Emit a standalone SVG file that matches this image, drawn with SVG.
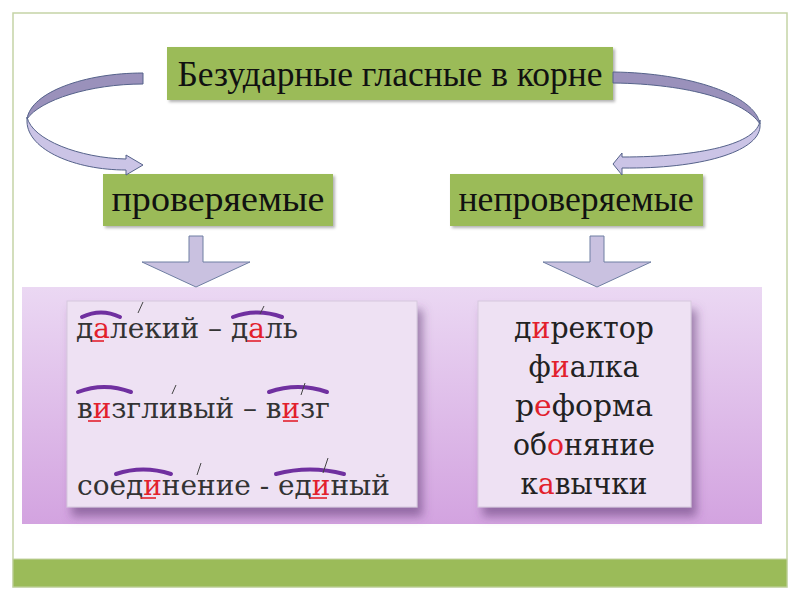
<svg xmlns="http://www.w3.org/2000/svg" width="800" height="600" viewBox="0 0 800 600">
<defs>
<style>
.hdr{fill:#9BBB59;}
.htxt{fill:#111;}
.ctxt{fill:#333;font-size:27px;}
.rtxt{fill:#222;font-size:29px;text-anchor:middle;}
.r{fill:#E2202C;}
.dark{fill:#9A91BB;stroke:#55628A;stroke-width:1;}
.light{fill:#CBC4E6;stroke:#55628A;stroke-width:1;}
.down{fill:#C9C1E0;stroke:#6F7EA2;stroke-width:1;}
.arc{fill:none;stroke:#7030A0;stroke-width:4;stroke-linecap:round;}
.ul{stroke:#E2202C;stroke-width:1.6;}
.st{stroke:#444;stroke-width:1;}
.card{fill:#EEE1F3;stroke:#D6C8DE;stroke-width:1;}
</style>
<linearGradient id="bandg" x1="0" y1="0" x2="0" y2="1">
<stop offset="0" stop-color="#EBD8F3"/>
<stop offset="1" stop-color="#D3A3E0"/>
</linearGradient>
<filter id="sh" x="-10%" y="-10%" width="125%" height="135%">
<feDropShadow dx="2" dy="2" stdDeviation="1.5" flood-color="#000" flood-opacity="0.3"/>
</filter>
<filter id="csh" x="-10%" y="-10%" width="130%" height="140%">
<feDropShadow dx="5" dy="9" stdDeviation="5" flood-color="#5E3A72" flood-opacity="0.55"/>
</filter>
</defs>

<g id="frame">
<rect x="13" y="13" width="774" height="574" fill="#FFFFFF" stroke="#C5D4A6" stroke-width="1.5"/>
<rect x="13" y="559" width="774" height="28" fill="#9BBB59" stroke="#C5D4A6" stroke-width="1"/>
</g>

<g id="band">
<rect x="22" y="287" width="740" height="237" fill="url(#bandg)"/>
</g>

<g id="node-root">
<rect class="hdr" x="167" y="47" width="446" height="53" filter="url(#sh)"/>
<text class="htxt" font-family="Liberation Serif" x="390" y="86" font-size="35" text-anchor="middle" textLength="425" lengthAdjust="spacingAndGlyphs">Безударные гласные в корне</text>
</g>

<g id="node-checked">
<rect class="hdr" x="103" y="174" width="230" height="52" filter="url(#sh)"/>
<text class="htxt" font-family="Liberation Serif" x="218" y="211" font-size="35" text-anchor="middle" textLength="213" lengthAdjust="spacingAndGlyphs">проверяемые</text>
</g>

<g id="node-unchecked">
<rect class="hdr" x="450" y="174" width="253" height="52" filter="url(#sh)"/>
<text class="htxt" font-family="Liberation Serif" x="576" y="211" font-size="35" text-anchor="middle" textLength="235" lengthAdjust="spacingAndGlyphs">непроверяемые</text>
</g>

<g id="connectors">
<path class="dark" d="M143,73 C85,73 31,92 27,119 C40,100 90,84 143,84 Z"/>
<path class="light" d="M27,117 C32,140 80,158 126,159 L126,155 L143,165 L126,175 L126,170 C75,170 28,150 27,122 Z"/>
<path class="dark" d="M613,72 C690,73 755,95 760,124 C745,101 690,84 613,83 Z"/>
<path class="light" d="M760,120 C758,144 700,157 622,157 L622,153 L613,164 L622,175 L622,168 C700,169 758,152 760,127 Z"/>
<path class="down" d="M189,236 L203,236 L203,262 L250,262 L196,287 L142,262 L189,262 Z"/>
<path class="down" d="M590,236 L604,236 L604,262 L651,262 L597,287 L543,262 L590,262 Z"/>
</g>

<g id="card-checked">
<rect class="card" x="67" y="301" width="350" height="206" filter="url(#csh)"/>
<text class="ctxt" font-family="DejaVu Serif" x="76" y="338" textLength="222" lengthAdjust="spacingAndGlyphs">д<tspan class="r">а</tspan>лекий – д<tspan class="r">а</tspan>ль</text>
<text class="ctxt" font-family="DejaVu Serif" x="77" y="418" textLength="253" lengthAdjust="spacingAndGlyphs">в<tspan class="r">и</tspan>згливый – в<tspan class="r">и</tspan>зг</text>
<text class="ctxt" font-family="DejaVu Serif" x="77" y="495" textLength="313" lengthAdjust="spacingAndGlyphs">соед<tspan class="r">и</tspan>нение - ед<tspan class="r">и</tspan>ный</text>
<path class="arc" d="M82,317 Q101,308 120,317"/>
<path class="arc" d="M233,317 Q257,308 282,317"/>
<path class="arc" d="M78,392 Q104,382 131,392"/>
<path class="arc" d="M269,392 Q298,382 327,392"/>
<path class="arc" d="M116,474 Q143,465 171,474"/>
<path class="arc" d="M276,474 Q310,465 344,474"/>
<line class="ul" x1="92" y1="341" x2="104" y2="341"/>
<line class="ul" x1="247" y1="341" x2="261" y2="341"/>
<line class="ul" x1="88" y1="421" x2="101" y2="421"/>
<line class="ul" x1="283" y1="421" x2="298" y2="421"/>
<line class="ul" x1="141" y1="498" x2="156" y2="498"/>
<line class="ul" x1="310" y1="498" x2="327" y2="498"/>
<line class="st" x1="138" y1="313" x2="143" y2="302"/>
<line class="st" x1="260" y1="314" x2="264" y2="306"/>
<line class="st" x1="172" y1="394" x2="176" y2="385"/>
<line class="st" x1="301" y1="395" x2="305" y2="383"/>
<line class="st" x1="197" y1="475" x2="201" y2="463"/>
<line class="st" x1="323" y1="473" x2="328" y2="458"/>
</g>

<g id="card-unchecked">
<rect class="card" x="478" y="301" width="213" height="206" filter="url(#csh)"/>
<text class="rtxt" font-family="DejaVu Serif" x="584" y="338" textLength="140" lengthAdjust="spacingAndGlyphs">д<tspan class="r">и</tspan>ректор</text>
<text class="rtxt" font-family="DejaVu Serif" x="584" y="377" textLength="111" lengthAdjust="spacingAndGlyphs">ф<tspan class="r">и</tspan>алка</text>
<text class="rtxt" font-family="DejaVu Serif" x="584" y="416" textLength="138" lengthAdjust="spacingAndGlyphs">р<tspan class="r">е</tspan>форма</text>
<text class="rtxt" font-family="DejaVu Serif" x="584" y="455" textLength="142" lengthAdjust="spacingAndGlyphs">об<tspan class="r">о</tspan>няние</text>
<text class="rtxt" font-family="DejaVu Serif" x="584" y="494" textLength="127" lengthAdjust="spacingAndGlyphs">к<tspan class="r">а</tspan>вычки</text>
</g>
</svg>
